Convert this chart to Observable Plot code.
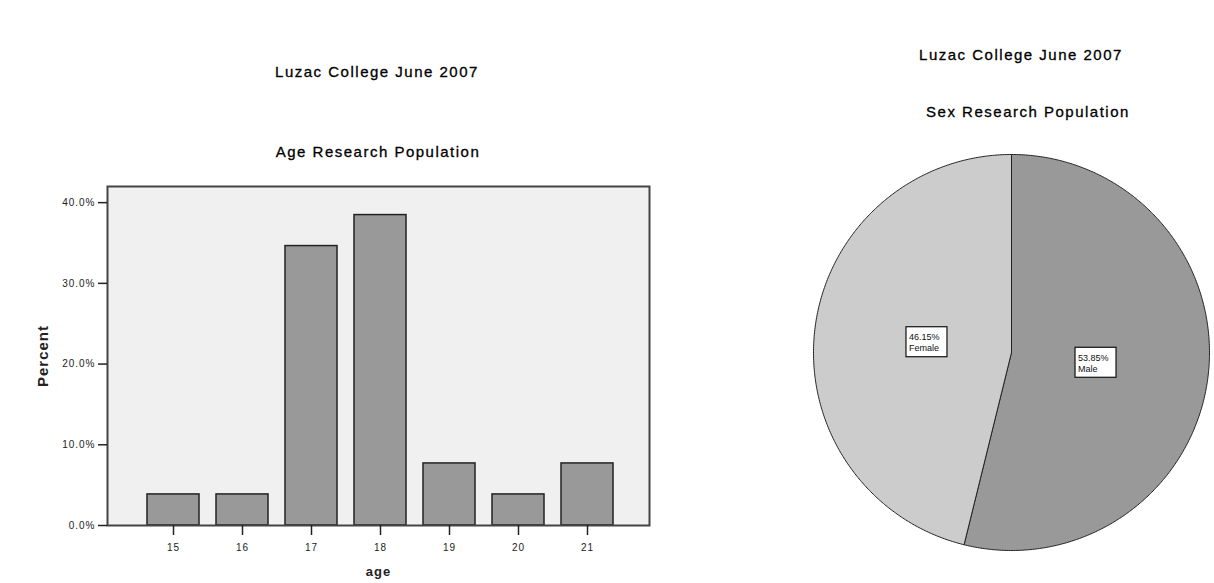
<!DOCTYPE html>
<html>
<head>
<meta charset="utf-8">
<script src="https://cdn.jsdelivr.net/npm/d3@7"></script>
<script src="https://cdn.jsdelivr.net/npm/@observablehq/plot@0.6"></script>
<style>
  html, body { margin: 0; padding: 0; background: #fff; }
  #page { position: relative; width: 1214px; height: 583px; overflow: hidden; background: #fff; font-family: "Liberation Sans", Arial, sans-serif; }
  .title { position: absolute; width: 400px; text-align: center; font-size: 15px; letter-spacing: 1.5px; line-height: 20px; color: #000; white-space: nowrap; -webkit-text-stroke: 0.3px #000; }
  #bar, #pie { position: absolute; }
  #bar { left: 0; top: 170px; }
  #pie { left: 800px; top: 140px; }
  #bar g[aria-label="y-axis label"] text { font-size: 15px; font-weight: bold; letter-spacing: 1px; }
  #bar g[aria-label="x-axis label"] text { font-size: 13px; font-weight: bold; letter-spacing: 1px; }
  #bar g[aria-label="y-axis tick label"] text, #bar g[aria-label="x-axis tick label"] text { letter-spacing: 1px; }
</style>
</head>
<body>
<div id="page">
  <div class="title" style="left:177px; top:62px;">Luzac College June 2007</div>
  <div class="title" style="left:178px; top:142px;">Age Research Population</div>
  <div class="title" style="left:821px; top:45px;">Luzac College June 2007</div>
  <div class="title" style="left:828px; top:102px;">Sex Research Population</div>
  <div id="bar"></div>
  <div id="pie"></div>
</div>
<script>
// ---- Data ----
const ages = ["15", "16", "17", "18", "19", "20", "21"];
const agePercents = [3.85, 3.85, 34.62, 38.46, 7.69, 3.85, 7.69];
const yTicks = [0, 10, 20, 30, 40];
const sexes = ["Male", "Female"];
const sexPercents = [53.85, 46.15];
const sexLabels = ["53.85%\nMale", "46.15%\nFemale"];

// ---- Bar chart ----
const ageData = ages.map((a, i) => ({age: a, pct: agePercents[i]}));
const bar = Plot.plot({
  width: 700, height: 413,
  marginLeft: 107, marginRight: 51, marginTop: 16, marginBottom: 58,
  style: {fontFamily: "'Liberation Sans', Arial, sans-serif", fontSize: "10px", color: "#222", background: "transparent"},
  x: {domain: ages, range: [146.5, 613.8], paddingInner: 0.24, paddingOuter: 0},
  y: {domain: [0, 42]},
  marks: [
    Plot.frame({fill: "#f0f0f0", stroke: "none"}),
    Plot.barY(ageData, {x: "age", y: "pct", fill: "#999999", stroke: "#222", strokeWidth: 1.5}),
    Plot.frame({stroke: "#444", strokeWidth: 2}),
    Plot.axisY({ticks: yTicks, tickFormat: d => d.toFixed(1) + "%", tickSize: 9, tickPadding: 3, strokeWidth: 1.5,
      label: "Percent", labelAnchor: "center", labelArrow: "none", labelOffset: 70}),
    Plot.axisX({tickSize: 10, tickPadding: 8, strokeWidth: 1.5,
      label: "age", labelAnchor: "center", labelArrow: "none", labelOffset: 50})
  ]
});
document.getElementById("bar").appendChild(bar);

// ---- Pie chart ----
const sexData = sexes.map((s, i) => ({sex: s, pct: sexPercents[i], label: sexLabels[i]}));
const arcs = d3.pie().sort(null).value(d => d.pct)(sexData);
const slicePts = arcs.flatMap(a => {
  const pts = [{sex: a.data.sex, x: 0, y: 0}];
  const n = Math.max(2, Math.ceil((a.endAngle - a.startAngle) / (Math.PI / 360)));
  for (let k = 0; k <= n; ++k) {
    const t = a.startAngle + (a.endAngle - a.startAngle) * k / n;
    pts.push({sex: a.data.sex, x: Math.sin(t), y: Math.cos(t)});
  }
  pts.push({sex: a.data.sex, x: 0, y: 0});
  return pts;
});
const labelR = 0.43;
const labelPts = arcs.map(a => {
  const m = (a.startAngle + a.endAngle) / 2;
  return {sex: a.data.sex, label: a.data.label, x: labelR * Math.sin(m), y: labelR * Math.cos(m)};
});
const pie = Plot.plot({
  width: 414, height: 443,
  margin: 0,
  style: {fontFamily: "'Liberation Sans', Arial, sans-serif", background: "transparent"},
  x: {domain: [-1, 1], range: [13, 409], axis: null},
  y: {domain: [-1, 1], range: [410, 14], axis: null},
  color: {domain: sexes, range: ["#999999", "#cccccc"]},
  marks: [
    Plot.line(slicePts, {x: "x", y: "y", z: "sex", fill: "sex", stroke: "#222", strokeWidth: 1, curve: "linear"}),
    Plot.rect(labelPts, {x1: "x", x2: "x", y1: "y", y2: "y", insetLeft: -20.5, insetRight: -20.5, insetTop: -15, insetBottom: -15,
      fill: "white", stroke: "#111", strokeWidth: 1.2}),
    Plot.text(labelPts, {x: "x", y: "y", text: "label", textAnchor: "start", dx: -18, fontSize: 9, lineHeight: 1.25, fill: "#111"})
  ]
});
document.getElementById("pie").appendChild(pie);
</script>
</body>
</html>
